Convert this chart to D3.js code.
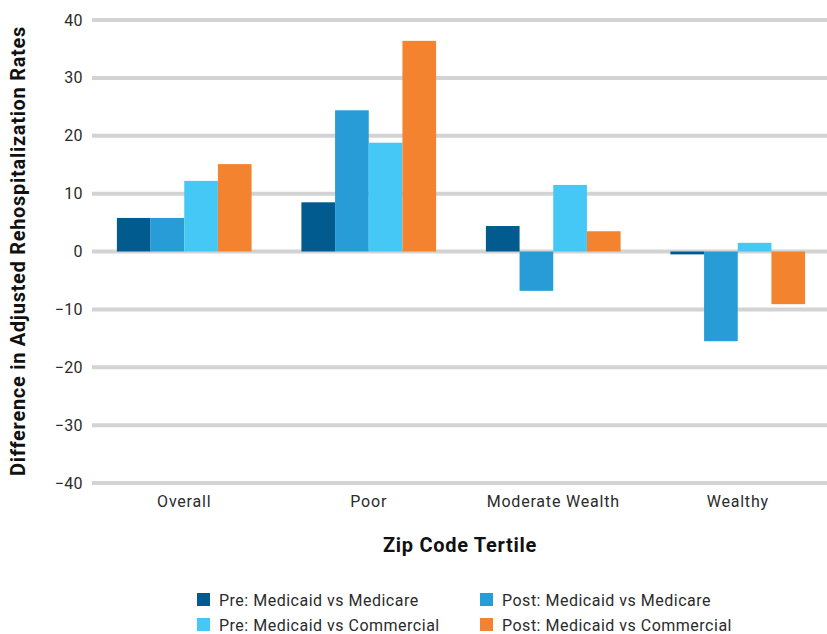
<!DOCTYPE html>
<html>
<head>
<meta charset="utf-8">
<script src="https://cdn.jsdelivr.net/npm/d3@7"></script>
<style>
  body { margin: 0; background: #fff; }
  svg { display: block; font-family: Roboto, "Noto Sans", sans-serif; }
</style>
</head>
<body>
<svg id="chart" width="827" height="634"></svg>
<script>
// Rehospitalization rate differences by zip code tertile

const categories = ['Overall', 'Poor', 'Moderate Wealth', 'Wealthy'];
const seriesNames = [
  'Pre: Medicaid vs Medicare',
  'Post: Medicaid vs Medicare',
  'Pre: Medicaid vs Commercial',
  'Post: Medicaid vs Commercial'
];
const preMedicare = [5.8, 8.5, 4.4, -0.5];
const postMedicare = [5.8, 24.4, -6.8, -15.5];
const preCommercial = [12.2, 18.8, 11.5, 1.5];
const postCommercial = [15.1, 36.4, 3.5, -9.1];
const yTicks = [40, 30, 20, 10, 0, -10, -20, -30, -40];
const colors = ['#015b8f', '#279cd7', '#45c8f5', '#f48330'];

const seriesValues = [preMedicare, postMedicare, preCommercial, postCommercial];

const svg = d3.select('#chart');
const textColor = '#2b2b2b';

const x = d3.scaleBand()
  .domain(categories)
  .range([92, 830])
  .paddingInner(0.27)
  .paddingOuter(0.135);

const xSeries = d3.scaleBand()
  .domain(seriesNames)
  .range([0, x.bandwidth()]);

const y = d3.scaleLinear()
  .domain([-40, 40])
  .range([483, 20]);

// gridlines
svg.append('g')
  .selectAll('line')
  .data(yTicks)
  .join('line')
    .attr('x1', 92)
    .attr('x2', 827)
    .attr('y1', d => y(d))
    .attr('y2', d => y(d))
    .attr('stroke', '#d3d3d3')
    .attr('stroke-width', 4);

// y tick labels
svg.append('g')
  .selectAll('text')
  .data(yTicks)
  .join('text')
    .attr('x', 83)
    .attr('y', d => y(d))
    .attr('dy', '0.35em')
    .attr('text-anchor', 'end')
    .attr('fill', textColor)
    .style('font-size', '16px')
    .style('letter-spacing', '0.4px')
    .text(d => d < 0 ? '\u2212' + Math.abs(d) : d);

// bars
const groups = svg.append('g')
  .selectAll('g')
  .data(categories)
  .join('g')
    .attr('transform', d => `translate(${x(d)},0)`);

groups.selectAll('rect')
  .data((c, i) => seriesNames.map((s, j) => ({ series: s, value: seriesValues[j][i], color: colors[j] })))
  .join('rect')
    .attr('x', d => xSeries(d.series))
    .attr('width', xSeries.bandwidth())
    .attr('y', d => y(Math.max(0, d.value)))
    .attr('height', d => Math.abs(y(d.value) - y(0)))
    .attr('fill', d => d.color);

// category labels
svg.append('g')
  .selectAll('text')
  .data(categories)
  .join('text')
    .attr('x', d => x(d) + x.bandwidth() / 2)
    .attr('y', 507)
    .attr('text-anchor', 'middle')
    .attr('fill', textColor)
    .style('font-size', '16px')
    .style('letter-spacing', '0.8px')
    .text(d => d);

// axis titles
svg.append('text')
  .attr('x', 460)
  .attr('y', 552)
  .attr('text-anchor', 'middle')
  .attr('fill', '#111')
  .style('font-size', '20px')
  .style('font-weight', 'bold')
  .style('letter-spacing', '0.7px')
  .text('Zip Code Tertile');

svg.append('text')
  .attr('transform', 'translate(25,251) rotate(-90)')
  .attr('text-anchor', 'middle')
  .attr('fill', '#111')
  .style('font-size', '20px')
  .style('font-weight', 'bold')
  .style('letter-spacing', '0.7px')
  .text('Difference in Adjusted Rehospitalization Rates');

// legend
const legendPos = [[197, 600], [480, 600], [197, 625], [480, 625]];
const legend = svg.append('g')
  .selectAll('g')
  .data(seriesNames)
  .join('g')
    .attr('transform', (d, i) => `translate(${legendPos[i][0]},${legendPos[i][1]})`);

legend.append('rect')
  .attr('x', 0)
  .attr('y', -7)
  .attr('width', 13)
  .attr('height', 13)
  .attr('fill', (d, i) => colors[i]);

legend.append('text')
  .attr('x', 22)
  .attr('y', 0)
  .attr('dy', '0.35em')
  .attr('fill', textColor)
  .style('font-size', '16px')
  .style('letter-spacing', '0.5px')
  .text(d => d);
</script>
</body>
</html>
